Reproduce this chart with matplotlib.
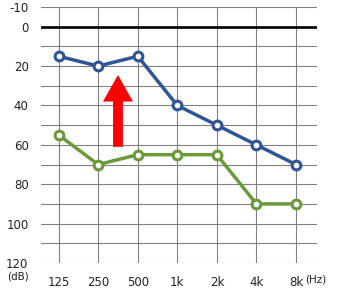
import matplotlib
matplotlib.use("Agg")
import matplotlib.pyplot as plt
from matplotlib.patches import FancyArrow

# 周波数と聴力レベル
freqs = ["125", "250", "500", "1k", "2k", "4k", "8k"]
before = [55, 70, 65, 65, 65, 90, 90]   # 緑
after = [15, 20, 15, 40, 50, 60, 70]    # 青
y_labels = [-10, 0, 20, 40, 60, 80, 100, 120]

plt.rcParams['font.family'] = ['DejaVu Sans']
plt.rcParams['axes.unicode_minus'] = False

fig = plt.figure(figsize=(3.4, 2.88), dpi=100)
ax = fig.add_axes([0.1206, 0.0868, 0.8114, 0.8889])

x = list(range(len(freqs)))

# グリッド
for v in range(-10, 121, 10):
    if v == 0:
        ax.axhline(v, color="black", lw=1.9, zorder=2)
    else:
        ax.axhline(v, color="#808080", lw=0.8, zorder=1)
for xi in x:
    ax.axvline(xi, color="#808080", lw=0.8, zorder=1)

ax.plot(x, after, color="#2f5597", lw=2.5, marker="o", ms=6.3,
        mfc="white", mec="#2f5597", mew=2.2, zorder=4)
ax.plot(x, before, color="#6a9a3a", lw=2.5, marker="o", ms=6.3,
        mfc="white", mec="#6a9a3a", mew=2.2, zorder=4)

# 改善の矢印
ax.add_patch(FancyArrow(1.5, 61, 0, -36.5, width=0.25, head_width=0.76,
                        head_length=13.5, length_includes_head=True,
                        color="#ff0000", lw=0, zorder=3))

ax.set_xlim(-0.447, 6.53)
ax.set_ylim(120, -10)
ax.set_xticks(x)
ax.set_xticklabels(freqs)
ax.set_yticks(y_labels)
ax.tick_params(length=0, labelsize=8.5, colors="#222222")
ax.tick_params(axis="y", pad=9)
ax.tick_params(axis="x", pad=9)
for s in ax.spines.values():
    s.set_visible(False)

fig.text(0.052, 0.040, "(dB)", fontsize=7.5, ha="center", va="center", color="#222222")
fig.text(0.897, 0.028, "(Hz)", fontsize=7.5, ha="left", va="center", color="#222222")

fig.savefig("out.png", dpi=100)
